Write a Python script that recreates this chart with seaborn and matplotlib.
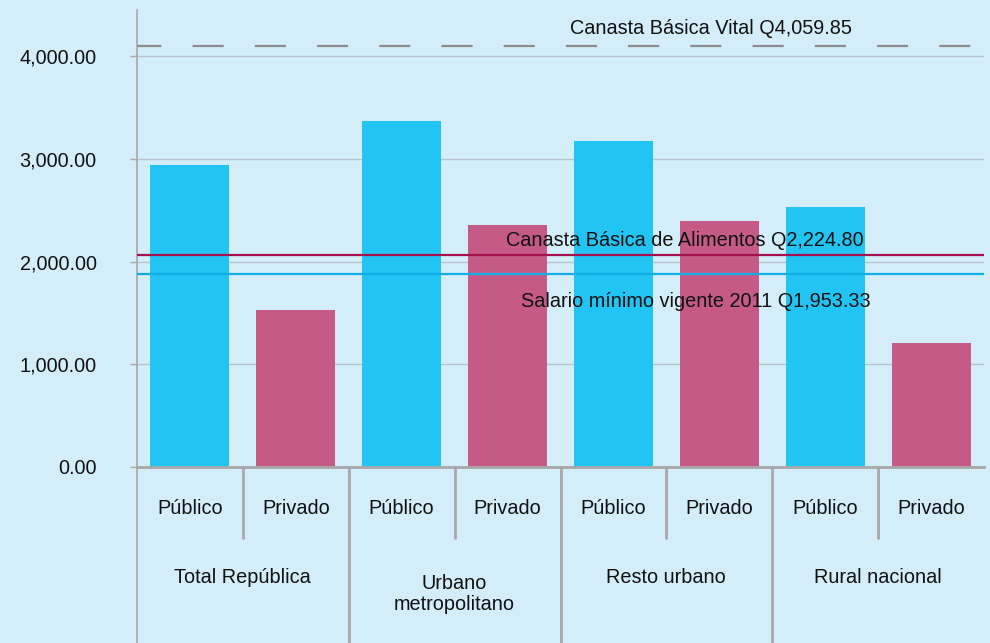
import matplotlib
matplotlib.use("Agg")
import matplotlib.pyplot as plt
import seaborn as sns
import pandas as pd
from matplotlib.ticker import FuncFormatter

# data
grupos = ["Total República", "Urbano\nmetropolitano", "Resto urbano", "Rural nacional"]
sectores = ["Público", "Privado"]
publico = [2940, 3365, 3175, 2530]
privado = [1530, 2355, 2395, 1210]

ref_valores = [4097, 2063, 1878]
ref_textos = ["Canasta Básica Vital Q4,059.85",
              "Canasta Básica de Alimentos Q2,224.80",
              "Salario mínimo vigente 2011 Q1,953.33"]

bg = "#d3eef9"
colores = {"Público": "#22c4f3", "Privado": "#c45a85"}
fs = 14.3

rows = []
for g, pu, pr in zip(grupos, publico, privado):
    rows.append({"cat": g + "|Público", "sector": "Público", "valor": pu})
    rows.append({"cat": g + "|Privado", "sector": "Privado", "valor": pr})
df = pd.DataFrame(rows)

sns.set_theme(style="white")
plt.rcParams["font.family"] = ["Liberation Sans", "DejaVu Sans"]

fig = plt.figure(figsize=(9.9, 6.43), dpi=100, facecolor=bg)
ax = fig.add_axes([137 / 990, 176 / 643, 847 / 990, 457 / 643])
ax.set_facecolor(bg)

sns.barplot(data=df, x="cat", y="valor", hue="sector", palette=colores,
            dodge=False, width=0.745, legend=False, ax=ax, zorder=2,
            saturation=1, linewidth=0)

ax.set_xlim(-0.5, 7.5)
ax.set_ylim(0, 4450)
ax.set_yticks([0, 1000, 2000, 3000, 4000])
ax.yaxis.set_major_formatter(FuncFormatter(lambda v, p: f"{v:,.2f}"))
ax.grid(axis="y", color="#b7c3cc", lw=1, zorder=0)
ax.set_axisbelow(True)
ax.set_xticks([])
ax.set_xlabel("")
ax.set_ylabel("")
ax.tick_params(axis="y", left=True, length=5, width=1, color="#a8a8a8",
               pad=24, labelsize=fs, labelcolor="#111111")

for s in ["top", "right"]:
    ax.spines[s].set_visible(False)
ax.spines["left"].set_color("#a8a8a8")
ax.spines["left"].set_linewidth(1.2)
ax.spines["bottom"].set_color("#a8a8a8")
ax.spines["bottom"].set_linewidth(2)

# reference lines
ax.axhline(ref_valores[0], color="#8c8c8c", lw=1.6, ls=(3, (14, 14)), zorder=3)
ax.axhline(ref_valores[1], color="#a3124f", lw=1.6, zorder=3)
ax.axhline(ref_valores[2], color="#12afe6", lw=1.6, zorder=3)
ax.text(4.92, 4272, ref_textos[0], ha="center", va="center", fontsize=fs, color="#111111", zorder=4)
ax.text(4.67, 2209, ref_textos[1], ha="center", va="center", fontsize=fs, color="#111111", zorder=4)
ax.text(4.78, 1616, ref_textos[2], ha="center", va="center", fontsize=fs, color="#111111", zorder=4)

# multi-level category axis
tr = ax.get_xaxis_transform()
sep = "#a8a8a8"
ax.plot([-0.5, -0.5], [0, -0.39], transform=tr, color=sep, lw=1.2, clip_on=False)
for i, g in enumerate(grupos):
    for j, s in enumerate(sectores):
        ax.text(2 * i + j, -0.09, s, transform=tr, ha="center", va="center",
                fontsize=fs, color="#111111")
    ax.plot([2 * i + 0.5] * 2, [0, -0.155], transform=tr, color=sep, lw=2, clip_on=False)
    if i > 0:
        ax.plot([2 * i - 0.5] * 2, [0, -0.39], transform=tr, color=sep, lw=2, clip_on=False)
    ypos = -0.278 if "\n" in g else -0.241
    ax.text(2 * i + 0.5, ypos, g, transform=tr, ha="center", va="center",
            fontsize=fs, color="#111111", linespacing=1.15)

fig.savefig("out.png", dpi=100, facecolor=bg)
